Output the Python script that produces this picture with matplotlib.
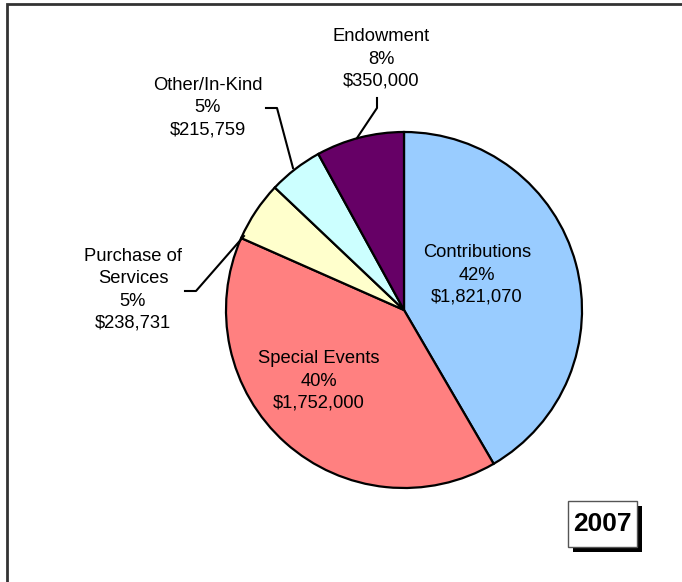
import matplotlib
matplotlib.use("Agg")
from matplotlib import pyplot as plt
from matplotlib.patches import Rectangle

plt.rcParams['font.family'] = ['Liberation Sans', 'DejaVu Sans']

# data
categories = ["Contributions", "Special Events", "Purchase of\nServices", "Other/In-Kind", "Endowment"]
amounts = [1821070, 1752000, 238731, 215759, 350000]
amount_labels = ["$1,821,070", "$1,752,000", "$238,731", "$215,759", "$350,000"]
colors = ["#99CCFF", "#FF8080", "#FFFFCC", "#CCFFFF", "#660066"]
year = "2007"

W, H = 682, 582
fig = plt.figure(figsize=(W / 100, H / 100), dpi=100)
ax = fig.add_axes([0, 0, 1, 1])


def py(y):
    # image y (from top) -> axis y
    return H - y


cx, cy, r = 404, py(310), 178
ax.pie(amounts, colors=colors, startangle=90, counterclock=False,
       center=(cx, cy), radius=r, frame=True,
       wedgeprops=dict(edgecolor="black", linewidth=1.6))
ax.set_xlim(0, W)
ax.set_ylim(0, H)
ax.axis("off")

total = sum(amounts)
pcts = ["%d%%" % round(a / total * 100) for a in amounts]

label_pos = [(477, 275), (319, 381), (133, 290), (208, 108), (381, 59)]
for name, pct, amt, (x, y) in zip(categories, pcts, amount_labels, label_pos):
    ax.text(x, py(y), f"{name}\n{pct}\n{amt}", ha="center", va="center",
            fontsize=13.2, linespacing=1.4, color="black")

# leader lines
leaders = [
    [(185, 291), (196, 291), (244, 236)],
    [(266, 108), (277, 108), (293, 168)],
    [(377, 98), (377, 108), (357, 138)],
]
for pts in leaders:
    ax.plot([p[0] for p in pts], [py(p[1]) for p in pts], color="black", lw=1.5)

# year box with shadow
ax.add_patch(Rectangle((573, py(552)), 69, 46, facecolor="black", edgecolor="none"))
ax.add_patch(Rectangle((568, py(547)), 69, 46, facecolor="white", edgecolor="#555555", lw=1))
ax.text(602.5, py(524), year, ha="center", va="center", fontsize=19, fontweight="bold")

# outer frame (left and top edges)
ax.plot([7, 7, W], [0, py(4), py(4)], color="#333333", lw=2, solid_joinstyle="miter")

fig.savefig("out.png", dpi=100)
